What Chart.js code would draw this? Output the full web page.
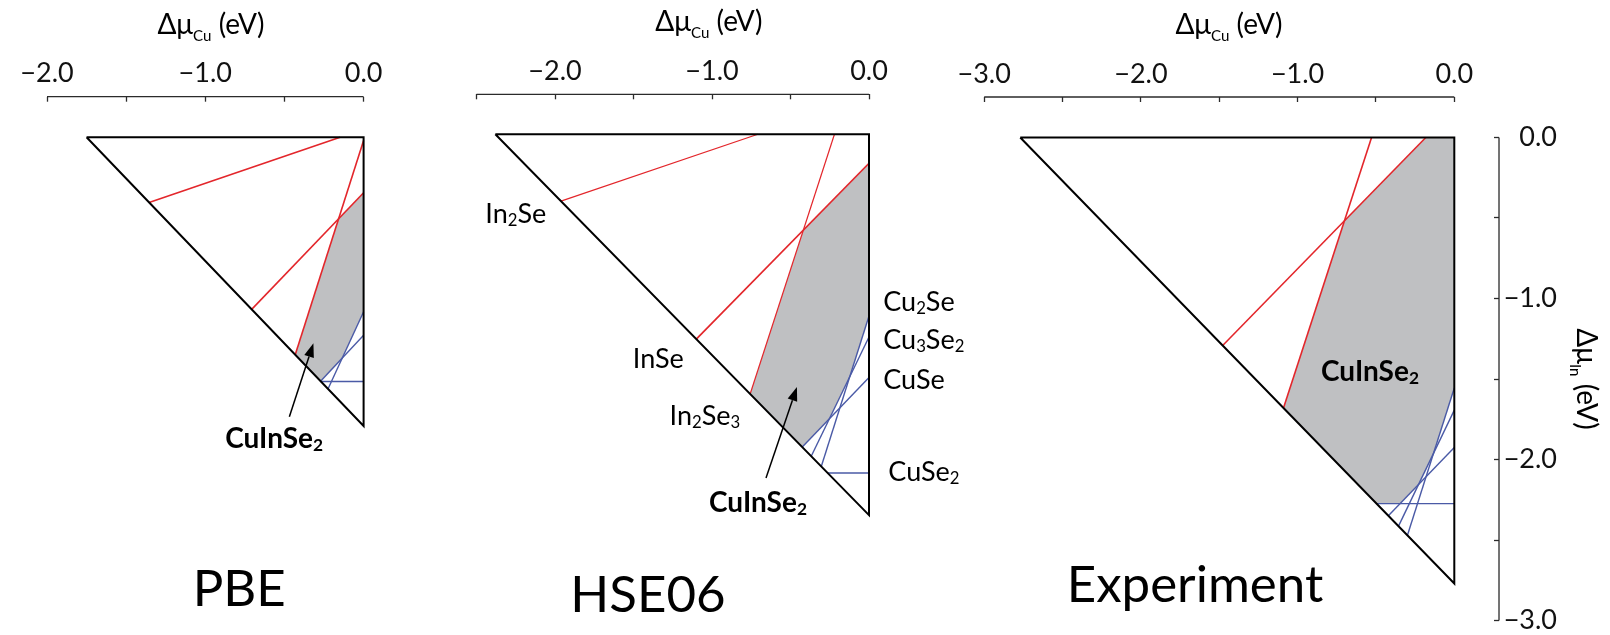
<!DOCTYPE html>
<html>
<head>
<meta charset="utf-8">
<script src="https://cdn.jsdelivr.net/npm/chart.js@4.4.1/dist/chart.umd.min.js"></script>
<style>
  html, body { margin: 0; padding: 0; background: #fff; }
  #wrap { position: relative; width: 1610px; height: 635px; overflow: hidden; }
  #wrap canvas { position: absolute; left: 0; top: 0; }
</style>
</head>
<body>
<div id="wrap">
  <canvas id="pbe" width="1610" height="635"></canvas>
  <canvas id="hse" width="1610" height="635"></canvas>
  <canvas id="exp" width="1610" height="635"></canvas>
</div>
<script>
// ---- Chemical-potential data, [Δμ_Cu, Δμ_In] in eV ----

// PBE
const pbeTriangle = [[-1.75, 0], [0, 0], [0, -1.75], [-1.75, 0]];
const pbeIn2Se    = [[-0.148, 0], [-1.355, -0.395]];
const pbeInSe     = [[0, -0.336], [-0.707, -1.043]];
const pbeIn2Se3   = [[0, -0.02], [-0.432, -1.318]];
const pbeCu3Se2   = [[-0.225, -1.525], [0, -1.057]];
const pbeCuSe     = [[-0.272, -1.478], [0, -1.20]];
const pbeCuSe2    = [[-0.27, -1.48], [0, -1.48]];
const pbeRegion   = [[0, -0.336], [-0.158, -0.494], [-0.432, -1.318], [-0.272, -1.478],
                     [-0.135, -1.338], [0, -1.057], [0, -0.336]];

// HSE06
const hseTriangle = [[-2.38, 0], [0, 0], [0, -2.38], [-2.38, 0]];
const hseIn2Se    = [[-0.708, 0], [-1.962, -0.418]];
const hseInSe     = [[0, -0.181], [-1.10, -1.28]];
const hseIn2Se3   = [[-0.220, 0], [-0.757, -1.623]];
const hseCu2Se    = [[-0.304, -2.076], [0, -1.136]];
const hseCu3Se2   = [[-0.368, -2.012], [0, -1.267]];
const hseCuSe     = [[-0.425, -1.955], [0, -1.52]];
const hseCuSe2    = [[-0.263, -2.117], [0, -2.117]];
const hseRegion   = [[0, -0.181], [-0.418, -0.599], [-0.757, -1.623], [-0.425, -1.955],
                     [-0.253, -1.779], [-0.123, -1.516], [0, -1.136], [0, -0.181]];

// Experiment
const expTriangle = [[-2.77, 0], [0, 0], [0, -2.77], [-2.77, 0]];
const expInSe     = [[-0.182, 0], [-1.478, -1.292]];
const expIn2Se3   = [[-0.528, 0], [-1.09, -1.68]];
const expCu2Se    = [[-0.299, -2.471], [0, -1.556]];
const expCu3Se2   = [[-0.356, -2.414], [0, -1.693]];
const expCuSe     = [[-0.421, -2.349], [0, -1.925]];
const expCuSe2    = [[-0.496, -2.274], [0, -2.274]];
const expRegion   = [[-0.182, 0], [0, 0], [0, -1.556], [-0.132, -1.961], [-0.228, -2.155],
                     [-0.347, -2.274], [-0.496, -2.274], [-1.09, -1.68], [-0.701, -0.518], [-0.182, 0]];

// Axis ticks (eV)
const pbeCuTicks = [-2, -1.5, -1, -0.5, 0];
const hseCuTicks = [-2.5, -2, -1.5, -1, -0.5, 0];
const expCuTicks = [-3, -2.5, -2, -1.5, -1, -0.5, 0];
const expInTicks = [0, -0.5, -1, -1.5, -2, -2.5, -3];

// Phase labels
const panelNames   = ['PBE', 'HSE06', 'Experiment'];
const hostPhase    = 'CuIn' + 'Se_2';
const hseInLabels  = ['In_2Se', 'InSe', 'In_2Se_3'];
const hseCuLabels  = ['Cu_2Se', 'Cu_3Se_2', 'CuSe', 'CuSe_2'];

// ---- styling ----
const W = 1610, H = 635;
const RED = '#e3262b', BLUE = '#4a5aa6', GRAY = '#bfc0c2', INK = '#000', AXIS = '#2b2b2b';
const FAMILY = 'Lato, "Open Sans", sans-serif';

const toXY = pts => pts.map(([x, y]) => ({ x, y }));
const fmtTick = v => Number.isInteger(v) ? (v < 0 ? '\u2212' : '') + Math.abs(v).toFixed(1) : '';

// text with "_x" / "_{xy}" subscripts
function parseRich(str) {
  const parts = []; let buf = ''; let i = 0;
  while (i < str.length) {
    if (str[i] === '_') {
      if (buf) { parts.push({ t: buf, sub: false }); buf = ''; }
      if (str[i + 1] === '{') {
        const j = str.indexOf('}', i);
        parts.push({ t: str.slice(i + 2, j), sub: true }); i = j + 1;
      } else { parts.push({ t: str[i + 1], sub: true }); i += 2; }
    } else { buf += str[i]; i++; }
  }
  if (buf) parts.push({ t: buf, sub: false });
  return parts;
}
function drawRich(ctx, str, x, yBase, o) {
  const size = o.size, weight = o.weight || 400;
  const subScale = o.subScale || 0.62, subShift = o.subShift != null ? o.subShift : size * 0.12;
  const parts = parseRich(str);
  const fontOf = p => `${weight} ${p.sub ? size * subScale : size}px ${FAMILY}`;
  let w = 0;
  parts.forEach(p => { ctx.font = fontOf(p); p.w = ctx.measureText(p.t).width; w += p.w; });
  let cx = o.align === 'center' ? x - w / 2 : (o.align === 'right' ? x - w : x);
  ctx.textAlign = 'left'; ctx.textBaseline = 'alphabetic'; ctx.fillStyle = o.color || INK;
  parts.forEach(p => { ctx.font = fontOf(p); ctx.fillText(p.t, cx, yBase + (p.sub ? subShift : 0)); cx += p.w; });
}
function drawArrow(ctx, x1, y1, x2, y2) {
  const ang = Math.atan2(y2 - y1, x2 - x1), len = 14, half = 5;
  const bx = x2 - len * Math.cos(ang), by = y2 - len * Math.sin(ang);
  ctx.strokeStyle = INK; ctx.lineWidth = 1.5;
  ctx.beginPath(); ctx.moveTo(x1, y1); ctx.lineTo(bx, by); ctx.stroke();
  ctx.fillStyle = INK; ctx.beginPath();
  ctx.moveTo(x2, y2);
  ctx.lineTo(bx + half * Math.sin(ang), by - half * Math.cos(ang));
  ctx.lineTo(bx - half * Math.sin(ang), by + half * Math.cos(ang));
  ctx.closePath(); ctx.fill();
}

// ---- panel definitions ----
const panels = [
  {
    id: 'pbe',
    frame: { x0: 363.6, sx: 158.3, xmin: -2.0, xmax: 0.1, y0: 137.3, sy: 165, top: 96.7, bottom: 620 },
    cuTicks: pbeCuTicks, inTicks: null, cuTitleAt: -0.964,
    triangle: pbeTriangle, region: pbeRegion,
    red: [[pbeIn2Se, 1.6], [pbeInSe, 1.6], [pbeIn2Se3, 1.6]],
    blue: [pbeCu3Se2, pbeCuSe, pbeCuSe2],
    labels: [{ text: hostPhase, at: [-0.565, -1.82], align: 'center', bold: true }],
    arrows: [[[-0.469, -1.693], [-0.317, -1.248]]],
    name: panelNames[0], nameAt: [-0.786, -2.84]
  },
  {
    id: 'hse',
    frame: { x0: 869, sx: 157, xmin: -2.5, xmax: 0.1, y0: 134.3, sy: 160, top: 94.3, bottom: 620 },
    cuTicks: hseCuTicks, inTicks: null, cuTitleAt: -1.02,
    triangle: hseTriangle, region: hseRegion,
    red: [[hseIn2Se, 1.2], [hseInSe, 1.7], [hseIn2Se3, 1.2]],
    blue: [hseCu2Se, hseCu3Se2, hseCuSe, hseCuSe2],
    labels: [
      { text: hseInLabels[0], at: [-2.25, -0.492], align: 'center' },
      { text: hseInLabels[1], at: [-1.342, -1.40], align: 'center' },
      { text: hseInLabels[2], at: [-1.045, -1.754], align: 'center' },
      { text: hseCuLabels[0], at: [0.091, -1.042], align: 'left' },
      { text: hseCuLabels[1], at: [0.091, -1.279], align: 'left' },
      { text: hseCuLabels[2], at: [0.091, -1.529], align: 'left' },
      { text: hseCuLabels[3], at: [0.123, -2.104], align: 'left' },
      { text: hostPhase, at: [-0.707, -2.298], align: 'center', bold: true }
    ],
    arrows: [[[-0.656, -2.148], [-0.459, -1.579]]],
    name: panelNames[1], nameAt: [-1.408, -2.986]
  },
  {
    id: 'exp',
    frame: { x0: 1454.3, sx: 156.7, xmin: -3.0, xmax: 0.2853, y0: 137.5, sy: 161, top: 97, bottom: 620.5,
             labelEdge: 1557 },
    cuTicks: expCuTicks, inTicks: expInTicks, cuTitleAt: -1.438, inTitleAt: -1.50,
    triangle: expTriangle, region: expRegion,
    red: [[expInSe, 1.6], [expIn2Se3, 1.6]],
    blue: [expCu2Se, expCu3Se2, expCuSe, expCuSe2],
    labels: [{ text: hostPhase, at: [-0.538, -1.450], align: 'center', bold: true }],
    arrows: [],
    name: panelNames[2], nameAt: [-1.655, -2.885]
  }
];

// decorations drawn on top of each panel: axis lines, axis titles, labels, arrows, panel name
function decor(cfg) {
  return {
    id: 'decor_' + cfg.id,
    afterDraw(chart) {
      const { ctx, chartArea: a, scales: { x, y } } = chart;
      const px = v => x.getPixelForValue(v), py = v => y.getPixelForValue(v);
      ctx.save();
      ctx.strokeStyle = AXIS; ctx.lineWidth = 1.3;
      const t = cfg.cuTicks;
      ctx.beginPath();
      ctx.moveTo(px(t[0]), a.top); ctx.lineTo(px(t[t.length - 1]), a.top);
      if (cfg.inTicks) {
        const s = cfg.inTicks;
        ctx.moveTo(a.right, py(s[0])); ctx.lineTo(a.right, py(s[s.length - 1]));
      }
      ctx.stroke();

      drawRich(ctx, '\u0394\u03bc_{Cu} (eV)', px(cfg.cuTitleAt), a.top - 63,
        { size: 28, subScale: 0.54, subShift: 7, align: 'center' });
      if (cfg.inTicks) {
        ctx.save();
        ctx.translate(a.right + 88, py(cfg.inTitleAt));
        ctx.rotate(Math.PI / 2);
        drawRich(ctx, '\u0394\u03bc_{In} (eV)', 0, 10, { size: 28, subScale: 0.54, subShift: 7, align: 'center' });
        ctx.restore();
      }

      cfg.labels.forEach(l => {
        const size = l.bold ? 28 : 27;
        drawRich(ctx, l.text, px(l.at[0]), py(l.at[1]) + size * 0.36,
          { size, weight: l.bold ? 700 : 400, align: l.align, subScale: 0.62, subShift: 3 });
      });
      cfg.arrows.forEach(([from, to]) => drawArrow(ctx, px(from[0]), py(from[1]), px(to[0]), py(to[1])));

      drawRich(ctx, cfg.name, px(cfg.nameAt[0]), py(cfg.nameAt[1]), { size: 51, align: 'center' });
      ctx.restore();
    }
  };
}

function buildPanel(cfg) {
  const f = cfg.frame;
  const left = f.x0 + f.xmin * f.sx;
  const right = f.x0 + f.xmax * f.sx;
  const ymax = (f.y0 - f.top) / f.sy;
  const ymin = (f.y0 - f.bottom) / f.sy;
  const yAxisW = cfg.inTicks ? f.labelEdge - right : 0;
  const padRight = cfg.inTicks ? W - f.labelEdge : W - right;

  const line = (pts, color, width, order) => ({
    data: toXY(pts), showLine: true, borderColor: color, borderWidth: width,
    pointRadius: 0, fill: false, clip: false, order
  });
  const datasets = [
    { data: toXY(cfg.region), showLine: true, borderWidth: 0, borderColor: 'rgba(0,0,0,0)',
      backgroundColor: GRAY, fill: 'shape', pointRadius: 0, clip: false, order: 10 },
    ...cfg.blue.map(p => line(p, BLUE, 1.4, 2)),
    ...cfg.red.map(([p, w]) => line(p, RED, w, 1)),
    line(cfg.triangle, INK, 2, 0)
  ];

  const tickFont = { family: FAMILY, size: 27 };
  const grid = { drawOnChartArea: false, drawTicks: true, tickLength: -5, color: AXIS, tickColor: AXIS, tickWidth: 1.3 };

  new Chart(document.getElementById(cfg.id), {
    type: 'scatter',
    data: { datasets },
    options: {
      responsive: false, animation: false, events: [],
      layout: { padding: { left: left, right: padRight, top: 0, bottom: H - f.bottom } },
      plugins: { legend: { display: false }, tooltip: { enabled: false }, title: { display: false } },
      elements: { line: { tension: 0, borderJoinStyle: 'miter', borderCapStyle: 'butt' }, point: { radius: 0 } },
      scales: {
        x: {
          type: 'linear', position: 'top', min: f.xmin, max: f.xmax,
          border: { display: false }, grid,
          ticks: { font: tickFont, color: '#111', padding: 12, autoSkip: false, maxRotation: 0, callback: fmtTick },
          afterBuildTicks: s => { s.ticks = cfg.cuTicks.map(v => ({ value: v })); },
          afterFit: s => { s.height = f.top; s.paddingLeft = 0; s.paddingRight = 0; }
        },
        y: {
          type: 'linear', position: 'right', display: !!cfg.inTicks, min: ymin, max: ymax,
          border: { display: false }, grid,
          ticks: { font: tickFont, color: '#111', padding: 0, crossAlign: 'far', autoSkip: false, callback: fmtTick },
          afterBuildTicks: s => { if (cfg.inTicks) s.ticks = cfg.inTicks.map(v => ({ value: v })); },
          afterFit: s => {
            if (cfg.inTicks) s.width = yAxisW;
            s.paddingTop = 0; s.paddingBottom = 0;
          }
        }
      }
    },
    plugins: [decor(cfg)]
  });
}

panels.forEach(buildPanel);
</script>
</body>
</html>
